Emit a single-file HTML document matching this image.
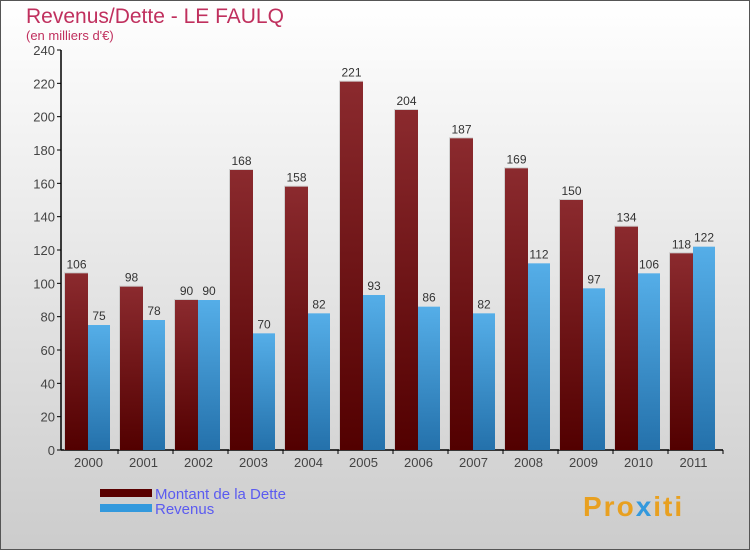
<!DOCTYPE html>
<html><head><meta charset="utf-8"><style>
body{margin:0;width:750px;height:550px;overflow:hidden;font-family:"Liberation Sans",sans-serif}
</style></head><body>
<svg width="750" height="550" xmlns="http://www.w3.org/2000/svg">
<defs>
<linearGradient id="bg" x1="0" y1="0" x2="0" y2="1"><stop offset="0" stop-color="#ffffff"/><stop offset="1" stop-color="#cccccc"/></linearGradient>
<linearGradient id="gd" x1="0" y1="0" x2="0" y2="1"><stop offset="0" stop-color="#8b2a2e"/><stop offset="1" stop-color="#520000"/></linearGradient>
<linearGradient id="gr" x1="0" y1="0" x2="0" y2="1"><stop offset="0" stop-color="#55aee8"/><stop offset="1" stop-color="#2471ab"/></linearGradient>
</defs>
<rect x="0.5" y="0.5" width="749" height="549" fill="url(#bg)" stroke="#555"/>
<text x="26" y="23" font-size="21" fill="#c0305e">Revenus/Dette - LE FAULQ</text>
<text x="26" y="40" font-size="13" fill="#c0305e">(en milliers d'€)</text>
<g id="axes"></g>
<g id="bars"></g>
<g>
<rect x="100" y="489" width="52" height="8" fill="#5a0000"/>
<text x="155" y="499" font-size="15" fill="#5b5bf0">Montant de la Dette</text>
<rect x="100" y="504" width="52" height="8" fill="#3399dd"/>
<text x="155" y="514" font-size="15" fill="#5b5bf0">Revenus</text>
</g>
<text x="583" y="516" font-size="28" font-weight="bold" letter-spacing="2" fill="#e8a020">Pro<tspan fill="#3399dd">x</tspan>iti</text>
</svg>
<script>
const years=["2000","2001","2002","2003","2004","2005","2006","2007","2008","2009","2010","2011"];
const dette=[106,98,90,168,158,221,204,187,169,150,134,118];
const revenus=[75,78,90,70,82,93,86,82,112,97,106,122];
const yTicks=[0,20,40,60,80,100,120,140,160,180,200,220,240];
const NS="http://www.w3.org/2000/svg";
const x0=63,gw=55,y0=450,yMax=240,ph=400;
const y=v=>y0-v/yMax*ph;
function mk(t,a,p){const e=document.createElementNS(NS,t);for(const k in a)e.setAttribute(k,a[k]);p.appendChild(e);return e;}
const ax=document.getElementById('axes'),bs=document.getElementById('bars');
const yl=mk('line',{x1:61,y1:y(yMax),x2:61,y2:y0,stroke:'#000','stroke-width':1.5},ax);


const xl=mk('line',{x1:61,y1:y0,x2:723,y2:y0,stroke:'#000','stroke-width':1.5},ax);


yTicks.forEach(v=>{
 mk('line',{x1:57,x2:61,y1:y(v),y2:y(v),stroke:'#000'},ax);
 const t=mk('text',{x:55,y:y(v)+5,'text-anchor':'end','font-size':13,fill:'#444'},ax);t.textContent=v;
 
 
});
years.forEach((yr,i)=>{
 const gx=x0+i*gw;
 const c=gx+gw/2-3;
 mk('line',{x1:gx+gw,x2:gx+gw,y1:y0,y2:y0+4,stroke:'#000'},ax);
 const t=mk('text',{x:c+1,y:467,'text-anchor':'middle','font-size':13,fill:'#444'},ax);t.textContent=yr;
 
 
 const bx=gx+2;
 mk('rect',{x:bx-1,y:y(dette[i])-1,width:24,height:y0-y(dette[i])+1,fill:'#bbb',opacity:0.6},bs);
 const b1=mk('rect',{x:bx,y:y(dette[i]),width:23,height:y0-y(dette[i]),fill:'url(#gd)'},bs);
 
 
 const b2=mk('rect',{x:bx+23,y:y(revenus[i]),width:22,height:y0-y(revenus[i]),fill:'url(#gr)'},bs);
 
 
 const l1=mk('text',{x:bx+11.5,y:y(dette[i])-5,'text-anchor':'middle','font-size':12,fill:'#333'},bs);l1.textContent=dette[i];
 
 
 const l2=mk('text',{x:bx+34,y:y(revenus[i])-5,'text-anchor':'middle','font-size':12,fill:'#333'},bs);l2.textContent=revenus[i];
 
 
});
</script>
</body></html>
